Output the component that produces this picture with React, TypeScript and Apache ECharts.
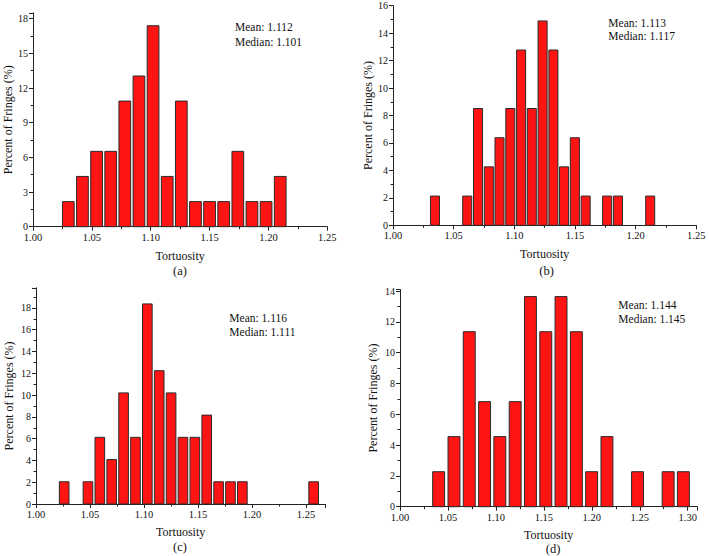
import React, { useEffect, useRef } from "react";
import * as echarts from "echarts";

// ---- data (tortuosity bin centres and percent of fringes) ----
const centersA = [1.03, 1.042, 1.054, 1.066, 1.078, 1.09, 1.102, 1.114, 1.126, 1.138, 1.15, 1.162, 1.174, 1.186, 1.198, 1.21];
const valuesA = [2.17, 4.35, 6.52, 6.52, 10.87, 13.04, 17.39, 4.35, 10.87, 2.17, 2.17, 2.17, 6.52, 2.17, 2.17, 4.35];
const binWidthA = 0.012;

const centersB = [1.0346, 1.0612, 1.0701, 1.079, 1.0878, 1.0967, 1.1056, 1.1144, 1.1233, 1.1322, 1.141, 1.1499, 1.1588, 1.1765, 1.1854, 1.212];
const valuesB = [2.13, 2.13, 8.51, 4.26, 6.38, 8.51, 12.77, 8.51, 14.89, 12.77, 4.26, 6.38, 2.13, 2.13, 2.13, 2.13];
const binWidthB = 0.00887;

const centersC = [1.0261, 1.0481, 1.0591, 1.0701, 1.0811, 1.0921, 1.1031, 1.1141, 1.1251, 1.1361, 1.1471, 1.1581, 1.1691, 1.1801, 1.1911, 1.2571];
const valuesC = [2.04, 2.04, 6.12, 4.08, 10.2, 6.12, 18.37, 12.24, 10.2, 6.12, 6.12, 8.16, 2.04, 2.04, 2.04, 2.04];
const binWidthC = 0.011;

const centersD = [1.0403, 1.0563, 1.0722, 1.0882, 1.1041, 1.1201, 1.136, 1.152, 1.1679, 1.1839, 1.1998, 1.2158, 1.2477, 1.2796, 1.2955];
const valuesD = [2.27, 4.55, 11.36, 6.82, 4.55, 6.82, 13.64, 11.36, 13.64, 11.36, 2.27, 4.55, 2.27, 2.27, 2.27];
const binWidthD = 0.01595;

const statsText = [
  ["Mean: 1.112", "Median: 1.101"],
  ["Mean: 1.113", "Median: 1.117"],
  ["Mean: 1.116", "Median: 1.111"],
  ["Mean: 1.144", "Median: 1.145"],
];
const panelLetters = ["(a)", "(b)", "(c)", "(d)"];
const xAxisTitle = "Tortuosity";
const yAxisTitle = "Percent of Fringes (%)";

// x ranges, y ranges and y tick steps per panel
const xMax = [1.25, 1.25, 1.268, 1.31];
const yMax = [18.5, 16, 19.85, 14.1];
const yStep = [3, 2, 2, 2];

const FONT = "Liberation Serif";

export default function App() {
  const ref = useRef<HTMLDivElement>(null);

  useEffect(() => {
    if (!ref.current) return;
    const chart = echarts.init(ref.current, null, { renderer: "svg" });

    const panels = [
      { centers: centersA, values: valuesA, bw: binWidthA, fill: 0.83 },
      { centers: centersB, values: valuesB, bw: binWidthB, fill: 0.84 },
      { centers: centersC, values: valuesC, bw: binWidthC, fill: 0.81 },
      { centers: centersD, values: valuesD, bw: binWidthD, fill: 0.78 },
    ];

    const grids = [
      { left: 33, top: 12.9, width: 294.3, height: 213.8 },
      { left: 393, top: 5.7, width: 303.3, height: 219.6 },
      { left: 36, top: 287.8, width: 289.4, height: 216.2 },
      { left: 400, top: 289.5, width: 297.3, height: 217.2 },
    ];
    const xNameGap = [23, 23, 22, 22];
    const yNameGap = [19.5, 18.5, 21.5, 21];

    const axisLineStyle = { color: "#222", width: 1 };

    const xAxes = grids.map((_, i) => ({
      type: "value",
      gridIndex: i,
      min: 1.0,
      max: xMax[i],
      interval: 0.05,
      name: xAxisTitle,
      nameLocation: "middle",
      nameGap: xNameGap[i],
      nameTextStyle: { fontFamily: FONT, fontSize: 12, color: "#111" },
      splitLine: { show: false },
      axisLine: { show: true, onZero: false, lineStyle: axisLineStyle },
      axisTick: { show: true, inside: false, length: 4, lineStyle: axisLineStyle },
      minorTick: { show: true, splitNumber: 2, length: 2.5, lineStyle: axisLineStyle },
      axisLabel: {
        fontFamily: FONT,
        fontSize: 10.5,
        color: "#111",
        margin: 5,
        formatter: (v: number) => {
          const k = Math.round((v - 1) / 0.05);
          if (Math.abs(v - 1 - k * 0.05) > 1e-6) return "";
          return v.toFixed(2);
        },
      },
    }));

    const yAxes = grids.map((_, i) => ({
      type: "value",
      gridIndex: i,
      min: 0,
      max: yMax[i],
      interval: yStep[i],
      name: yAxisTitle,
      nameLocation: "middle",
      nameGap: yNameGap[i],
      nameRotate: 90,
      nameTextStyle: { fontFamily: FONT, fontSize: 12, color: "#111" },
      splitLine: { show: false },
      axisLine: { show: true, lineStyle: axisLineStyle },
      axisTick: { show: true, inside: false, length: 4, lineStyle: axisLineStyle },
      minorTick: { show: true, splitNumber: 2, length: 2.5, lineStyle: axisLineStyle },
      axisLabel: {
        fontFamily: FONT,
        fontSize: 10,
        color: "#111",
        margin: 5,
        formatter: (v: number) => {
          const k = Math.round(v / yStep[i]);
          if (Math.abs(v - k * yStep[i]) > 1e-6) return "";
          return String(Math.round(v));
        },
      },
    }));

    const series = panels.map((p, i) => ({
      type: "custom",
      xAxisIndex: i,
      yAxisIndex: i,
      data: p.centers.map((c, j) => [c, p.values[j]]),
      renderItem: (params: any, api: any) => {
        const c = api.value(0);
        const v = api.value(1);
        const hw = (p.bw * p.fill) / 2;
        const tl = api.coord([c - hw, v]);
        const br = api.coord([c + hw, 0]);
        return {
          type: "rect",
          shape: { x: tl[0], y: tl[1], width: br[0] - tl[0], height: br[1] - tl[1] },
          style: { fill: "#FF1414", stroke: "#2a2a2a", lineWidth: 1 },
        };
      },
    }));

    const statsPos = [
      [235, 27.3, 41.7],
      [608.3, 22.7, 35.7],
      [229.3, 317.7, 331.7],
      [618.3, 305, 319.3],
    ];
    const letterPos = [
      [180, 270.7],
      [546.5, 271],
      [180, 546.5],
      [553, 549],
    ];

    const graphics: any[] = [];
    statsPos.forEach((s, i) => {
      graphics.push({
        type: "text",
        x: s[0],
        y: s[1],
        style: { text: statsText[i][0], font: `11.5px "${FONT}"`, fill: "#111", textVerticalAlign: "middle", textAlign: "left" },
      });
      graphics.push({
        type: "text",
        x: s[0],
        y: s[2],
        style: { text: statsText[i][1], font: `11.5px "${FONT}"`, fill: "#111", textVerticalAlign: "middle", textAlign: "left" },
      });
    });
    letterPos.forEach((l, i) => {
      graphics.push({
        type: "text",
        x: l[0],
        y: l[1],
        style: { text: panelLetters[i], font: `12.5px "${FONT}"`, fill: "#111", textVerticalAlign: "middle", textAlign: "center" },
      });
    });

    chart.setOption({
      animation: false,
      backgroundColor: "#ffffff",
      grid: grids.map((g) => ({ ...g, containLabel: false })),
      xAxis: xAxes,
      yAxis: yAxes,
      series,
      graphic: graphics,
    });

    return () => chart.dispose();
  }, []);

  return (
    <div
      ref={ref}
      style={{ position: "fixed", left: 0, top: 0, width: 709, height: 556, background: "#fff" }}
    />
  );
}
